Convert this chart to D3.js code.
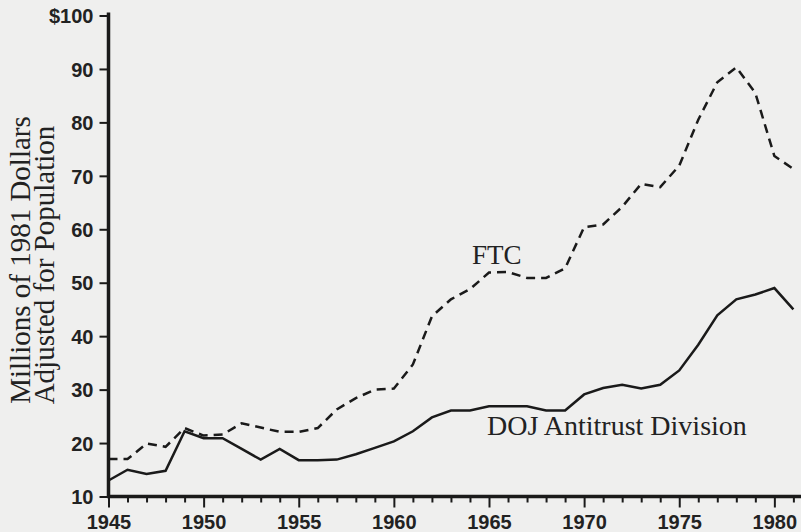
<!DOCTYPE html>
<html>
<head>
<meta charset="utf-8">
<script src="https://cdn.jsdelivr.net/npm/d3@7"></script>
<style>
  body { margin: 0; background: #efefee; }
  svg { display: block; }
  .tick text { font-family: "Liberation Sans", Arial, sans-serif; font-weight: bold; font-size: 20px; fill: #222; }
  .lbl { font-family: "Liberation Serif", "Times New Roman", serif; fill: #222; }
</style>
</head>
<body>
<div id="chart"></div>
<script>
// Datos
var years = [1945, 1946, 1947, 1948, 1949, 1950, 1951, 1952, 1953, 1954,
    1955, 1956, 1957, 1958, 1959, 1960, 1961, 1962, 1963, 1964,
    1965, 1966, 1967, 1968, 1969, 1970, 1971, 1972, 1973, 1974,
    1975, 1976, 1977, 1978, 1979, 1980, 1981];

var ftc = [17.0, 17.0, 19.9, 19.3, 22.8, 21.4, 21.6, 23.7, 22.9, 22.1,
    22.1, 22.8, 26.3, 28.4, 30.0, 30.2, 34.7, 43.7, 46.9, 48.8,
    51.9, 52.0, 50.9, 50.9, 52.7, 60.4, 60.9, 64.2, 68.5, 67.9,
    71.9, 80.5, 87.5, 90.3, 85.5, 73.7, 71.3];

var doj = [13.0, 15.0, 14.2, 14.8, 22.2, 20.9, 20.9, 18.9, 16.9, 18.9,
    16.8, 16.8, 16.9, 17.9, 19.1, 20.3, 22.2, 24.8, 26.1, 26.1,
    26.9, 26.9, 26.9, 26.1, 26.1, 29.1, 30.3, 30.9, 30.2, 30.9,
    33.6, 38.4, 43.9, 46.9, 47.8, 49.0, 45.0];

var yTicks = [10, 20, 30, 40, 50, 60, 70, 80, 90, 100];
var xLabelYears = [1945, 1950, 1955, 1960, 1965, 1970, 1975, 1980];

var svgWidth = 801;
var svgHeight = 532;

var svg = d3.select("#chart")
    .append("svg")
    .attr("width", svgWidth)
    .attr("height", svgHeight);

// escalas
var xScale = d3.scaleLinear()
    .domain([1945, 1981.4])
    .range([108.5, 801]);

var yScale = d3.scaleLinear()
    .domain([10, 100])
    .range([496.5, 15.5]);

// eje x: marca cada año, etiqueta cada 5
var bottomAxis = d3.axisBottom(xScale)
    .tickValues(years)
    .tickSize(6)
    .tickPadding(8)
    .tickFormat(d => xLabelYears.indexOf(d) >= 0 ? d : "");

var xAxis = svg.append("g")
    .attr("transform", `translate(0, ${yScale(10)})`)
    .call(bottomAxis);

xAxis.select(".domain").remove();
xAxis.append("line")
    .attr("x1", xScale(1945) - 1.5)
    .attr("x2", svgWidth)
    .attr("stroke", "#1a1a1a")
    .attr("stroke-width", 3.5);
xAxis.selectAll(".tick line")
    .attr("stroke", "#1a1a1a")
    .attr("stroke-width", 2)
    .attr("y2", d => xLabelYears.indexOf(d) >= 0 ? 11 : 6);
xAxis.selectAll(".tick text").attr("dy", "0.92em");

// eje y
var leftAxis = d3.axisLeft(yScale)
    .tickValues(yTicks)
    .tickSize(9)
    .tickPadding(6)
    .tickFormat(d => d === 100 ? "$100" : d);

var yAxis = svg.append("g")
    .attr("transform", `translate(${xScale(1945)}, 0)`)
    .call(leftAxis);

yAxis.select(".domain").remove();
yAxis.append("line")
    .attr("y1", yScale(100) - 3)
    .attr("y2", yScale(10) + 1.5)
    .attr("stroke", "#1a1a1a")
    .attr("stroke-width", 3.5);
yAxis.selectAll(".tick line")
    .attr("stroke", "#1a1a1a")
    .attr("stroke-width", 2);
yAxis.selectAll(".tick text").attr("dy", "0.36em");

// líneas
var line = d3.line()
    .x((d, i) => xScale(years[i]))
    .y(d => yScale(d));

svg.append("path")
    .datum(ftc)
    .attr("d", line)
    .attr("fill", "none")
    .attr("stroke", "#1a1a1a")
    .attr("stroke-width", 2.5)
    .attr("stroke-dasharray", "9,6");

svg.append("path")
    .datum(doj)
    .attr("d", line)
    .attr("fill", "none")
    .attr("stroke", "#1a1a1a")
    .attr("stroke-width", 2.5);

// etiquetas de series
svg.append("text")
    .attr("class", "lbl")
    .attr("x", 472)
    .attr("y", 264)
    .style("font-size", "27px")
    .text("FTC");

svg.append("text")
    .attr("class", "lbl")
    .attr("x", 487)
    .attr("y", 435)
    .style("font-size", "28px")
    .text("DOJ Antitrust Division");

// título del eje y
var titleGroup = svg.append("g")
    .attr("transform", "rotate(-90)");

titleGroup.append("text")
    .attr("class", "lbl")
    .attr("x", -260)
    .attr("y", 30)
    .attr("text-anchor", "middle")
    .style("font-size", "29px")
    .text("Millions of 1981 Dollars");

titleGroup.append("text")
    .attr("class", "lbl")
    .attr("x", -265)
    .attr("y", 54)
    .attr("text-anchor", "middle")
    .style("font-size", "29px")
    .text("Adjusted for Population");
</script>
</body>
</html>
